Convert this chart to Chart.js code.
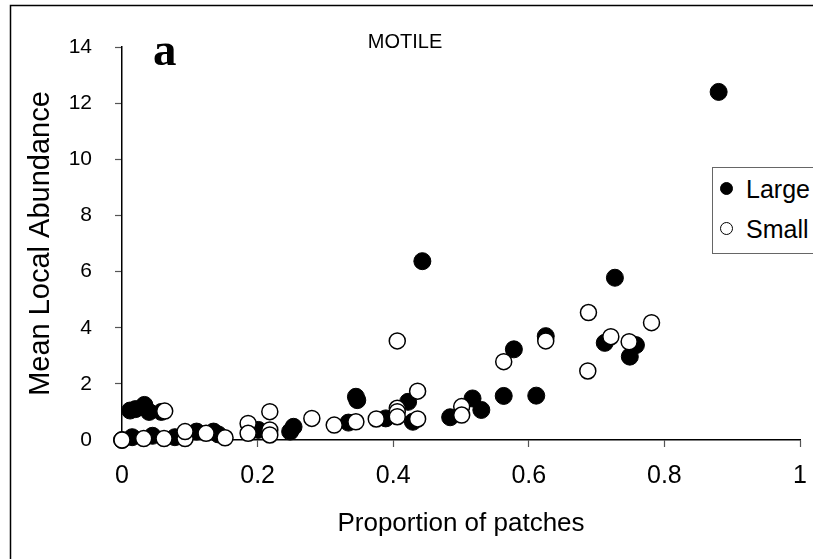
<!DOCTYPE html>
<html>
<head>
<meta charset="utf-8">
<script src="https://cdn.jsdelivr.net/npm/chart.js@4/dist/chart.umd.min.js"></script>
<style>
  html, body { margin: 0; padding: 0; background: #fff; }
  #wrap { position: relative; width: 813px; height: 559px; overflow: hidden; }
  #legend { position: absolute; left: 712px; top: 167px; width: 130px; height: 87px;
    border: 1.5px solid #666; background: #fff; box-sizing: border-box;
    font-family: "Liberation Sans", Arial, sans-serif; font-size: 25px; color: #000; }
  .item { position: absolute; left: 0; height: 30px; line-height: 30px; white-space: nowrap; }
  .mk { position: absolute; left: 7px; top: 8px; width: 13px; height: 13px; border-radius: 50%; box-sizing: border-box; border: 1.2px solid #000; }
  .lbl { position: absolute; left: 33px; top: 0; }
</style>
</head>
<body>
<div id="wrap">
  <canvas id="c" width="813" height="559"></canvas>
  <div id="legend"></div>
</div>
<script>
// ---- data ----
const seriesNames = ["Large", "Small"];

const largeX = [0.000, 0.012, 0.020, 0.033, 0.040, 0.058, 0.015, 0.045, 0.078, 0.110, 0.135, 0.142,
                0.201, 0.248, 0.253, 0.334, 0.345, 0.347, 0.389, 0.422, 0.429, 0.443, 0.484, 0.517,
                0.530, 0.563, 0.578, 0.611, 0.625, 0.712, 0.727, 0.749, 0.758, 0.880];
const largeY = [0.00, 1.05, 1.10, 1.25, 1.00, 1.00, 0.10, 0.15, 0.10, 0.30, 0.30, 0.20,
                0.36, 0.30, 0.47, 0.62, 1.54, 1.42, 0.77, 1.36, 0.65, 6.37, 0.81, 1.48,
                1.07, 1.57, 3.23, 1.58, 3.70, 3.46, 5.78, 2.97, 3.38, 12.40];

const smallX = [0.000, 0.032, 0.062, 0.093, 0.063, 0.093, 0.124, 0.152, 0.186, 0.186, 0.218, 0.218,
                0.218, 0.280, 0.313, 0.345, 0.375, 0.406, 0.406, 0.406, 0.406, 0.436, 0.436, 0.501,
                0.501, 0.563, 0.625, 0.687, 0.688, 0.721, 0.748, 0.781];
const smallY = [0.00, 0.05, 0.05, 0.05, 1.03, 0.30, 0.24, 0.08, 0.59, 0.24, 1.01, 0.36,
                0.18, 0.77, 0.53, 0.65, 0.75, 1.13, 1.01, 0.83, 3.53, 1.74, 0.75, 1.19,
                0.89, 2.79, 3.53, 2.46, 4.54, 3.68, 3.50, 4.18];

const xTickLabels = ["0", "0.2", "0.4", "0.6", "0.8", "1"];
const yTickLabels = ["0", "2", "4", "6", "8", "10", "12", "14"];

const chartTitle = "MOTILE";
const panelLetter = "a";
const xTitle = "Proportion of patches";
const yTitle = "Mean Local Abundance";

// ---- build ----
const toPts = (xs, ys) => xs.map((x, i) => ({ x: x, y: ys[i] }));

const frame = {
  id: 'frame',
  beforeDraw(chart) {
    const ctx = chart.ctx;
    ctx.save();
    ctx.fillStyle = '#fff';
    ctx.fillRect(0, 0, chart.width, chart.height);
    ctx.strokeStyle = '#000';
    ctx.lineWidth = 1.5;
    ctx.strokeRect(10.5, 5.5, 1200, 1200);
    ctx.restore();
  },
  afterDraw(chart) {
    const ctx = chart.ctx;
    const xs = chart.scales.x, ys = chart.scales.y;
    ctx.save();
    ctx.fillStyle = '#000';
    ctx.font = 'bold 47px "Liberation Serif", "Times New Roman", serif';
    ctx.textAlign = 'left';
    ctx.textBaseline = 'alphabetic';
    ctx.fillText(panelLetter, xs.getPixelForValue(0) + 31, ys.getPixelForValue(14) + 18);
    ctx.restore();
  }
};

const fontFam = '"Liberation Sans", Arial, sans-serif';

new Chart(document.getElementById('c'), {
  type: 'scatter',
  data: {
    datasets: [
      { label: seriesNames[0], data: toPts(largeX, largeY), order: 2,
        backgroundColor: '#000', borderColor: '#000', borderWidth: 1,
        pointRadius: 8.5, pointHoverRadius: 8.5, clip: false },
      { label: seriesNames[1], data: toPts(smallX, smallY), order: 1,
        backgroundColor: '#fff', borderColor: '#000', borderWidth: 1.5,
        pointRadius: 8, pointHoverRadius: 8, clip: false }
    ]
  },
  options: {
    responsive: false,
    animation: false,
    events: [],
    layout: { padding: { left: 10, right: 13, top: 0, bottom: 0 } },
    plugins: {
      legend: { display: false },
      tooltip: { enabled: false },
      title: {
        display: true, text: chartTitle, color: '#000',
        font: { family: fontFam, size: 20, weight: 'normal', lineHeight: 1.2 },
        padding: { top: 30, bottom: -7 }
      }
    },
    scales: {
      x: {
        type: 'linear', min: 0, max: 1,
        afterFit(s) { s.height = 119; s.paddingRight = 0; s.paddingLeft = 0; },
        border: { display: true, color: '#000', width: 1.5 },
        grid: { drawOnChartArea: false, drawTicks: true, tickLength: 7, color: '#555', tickWidth: 1.2 },
        ticks: { stepSize: 0.2, color: '#000', padding: 14,
          font: { family: fontFam, size: 25 },
          callback: (v) => { const i = Math.round(v / 0.2); return xTickLabels[i]; } },
        title: { display: true, text: xTitle, color: '#000',
          font: { family: fontFam, size: 26 }, padding: { top: 0, bottom: 20 } }
      },
      y: {
        type: 'linear', min: 0, max: 14,
        afterFit(s) { s.width = 112; },
        border: { display: true, color: '#000', width: 1.5 },
        grid: { drawOnChartArea: false, drawTicks: true, tickLength: 7, color: '#555', tickWidth: 1.2 },
        ticks: { stepSize: 2, color: '#000', padding: 23,
          font: { family: fontFam, size: 21 },
          callback: (v) => yTickLabels[Math.round(v / 2)] },
        title: { display: true, text: yTitle, color: '#000',
          font: { family: fontFam, size: 29 }, padding: { top: 14, bottom: 0 } }
      }
    }
  },
  plugins: [frame]
});

// HTML legend built from the series names
const leg = document.getElementById('legend');
seriesNames.forEach((name, i) => {
  const it = document.createElement('div');
  it.className = 'item';
  it.style.top = (i === 0 ? 6 : 46) + 'px';
  const mk = document.createElement('span');
  mk.className = 'mk';
  mk.style.background = i === 0 ? '#000' : '#fff';
  const lb = document.createElement('span');
  lb.className = 'lbl';
  lb.textContent = name;
  it.appendChild(mk); it.appendChild(lb);
  leg.appendChild(it);
});
</script>
</body>
</html>
